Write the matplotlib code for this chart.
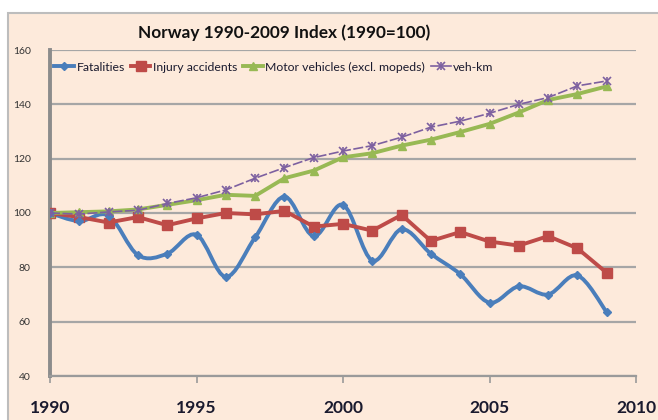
import numpy as np
import matplotlib
matplotlib.use('Agg')
import matplotlib.pyplot as plt
from matplotlib.path import Path
from matplotlib.patches import PathPatch, Rectangle
from matplotlib.lines import Line2D
from matplotlib.legend_handler import HandlerTuple

years = list(range(1990, 2010))
fatalities = [100, 97, 99, 84.5, 85, 92, 76.5, 91, 106, 91.5,
              103, 82.5, 94, 85, 77.5, 67, 73, 70, 77, 63.5]
injury = [100, 98.5, 96.5, 98.5, 95.5, 98, 100, 99.5, 100.8, 95,
          96, 93.5, 99.3, 89.7, 93, 89.5, 88, 91.5, 87, 78]
motor = [100, 100.3, 100.6, 101.3, 103, 104.7, 106.7, 106.3, 112.8, 115.6,
         120.5, 122, 124.8, 127, 129.8, 132.8, 137, 141.6, 143.8, 146.6]
vehkm = [100, 99.6, 100.4, 101, 103.5, 105.6, 108.5, 112.8, 116.7, 120.4,
         122.8, 124.8, 127.9, 131.6, 133.8, 136.7, 140, 142.5, 146.8, 148.6]

title = 'Norway 1990-2009 Index (1990=100)'
labels = ['Fatalities', 'Injury accidents', 'Motor vehicles (excl. mopeds)', 'veh-km']

BLUE = '#4a7ebb'
RED = '#be4b48'
GREEN = '#98b954'
PURPLE = '#7d60a0'
BG = '#fdeadb'
GRID = '#a6a6a6'

plt.rcParams['font.family'] = ['Lato', 'DejaVu Sans']


def smooth_path(xs, ys):
    # excel style smoothed line: bezier segments through every point
    pts = np.column_stack([xs, ys]).astype(float)
    n = len(pts)
    verts = [pts[0]]
    codes = [Path.MOVETO]
    for i in range(n - 1):
        p0 = pts[max(i - 1, 0)]
        p1 = pts[i]
        p2 = pts[i + 1]
        p3 = pts[min(i + 2, n - 1)]
        c1 = p1 + (p2 - p0) / 6.0
        c2 = p2 - (p3 - p1) / 6.0
        verts += [c1, c2, p2]
        codes += [Path.CURVE4] * 3
    return Path(verts, codes)


fig = plt.figure(figsize=(6.58, 4.2), dpi=100)
fig.patch.set_facecolor('white')
bg = Rectangle((8 / 658, -0.05), 1.0, 1 - 13 / 420 + 0.05,
               transform=fig.transFigure, facecolor=BG,
               edgecolor='#bdbdbd', lw=1.5, zorder=-10)
fig.add_artist(bg)

ax = fig.add_axes([50 / 658, 1 - 376 / 420, (636 - 50) / 658, (376 - 50) / 420])
ax.set_facecolor('none')

ax.set_xlim(1990, 2010)
ax.set_ylim(40, 160)
ax.set_xticks([1990, 1995, 2000, 2005, 2010])
ax.set_yticks(range(40, 161, 20))
ax.grid(axis='y', color=GRID, lw=1.6)
ax.set_axisbelow(True)
for s in ['top', 'right']:
    ax.spines[s].set_visible(False)
ax.spines['left'].set_color('#8c8c8c')
ax.spines['left'].set_linewidth(2.8)
ax.spines['bottom'].set_color('#9a9a9a')
ax.spines['bottom'].set_linewidth(1.6)
ax.tick_params(axis='x', direction='out', length=5, width=1.2, color='#9a9a9a',
               pad=12, labelsize=12.5)
ax.tick_params(axis='y', length=0, pad=14, labelsize=7.5, labelcolor='#333333')
for t in ax.get_xticklabels():
    t.set_fontweight('bold')
    t.set_color('#1a1a2e')

# fatalities: smoothed line
ax.add_patch(PathPatch(smooth_path(years, fatalities), facecolor='none',
                       edgecolor=BLUE, lw=2.8, zorder=3, capstyle='round'))
ax.plot(years, fatalities, ls='none', marker='D', ms=4.5, color=BLUE, zorder=4)

ax.plot(years, injury, color=RED, lw=2.8, marker='s', ms=7.5, zorder=3)
ax.plot(years, motor, color=GREEN, lw=2.8, marker='^', ms=6, zorder=3)
ax.plot(years, vehkm, color=PURPLE, lw=1.2, ls=(0, (6, 1.5)), marker='x', ms=6,
        mew=1.2, zorder=4)
ax.plot(years, vehkm, ls='none', marker='|', ms=6, mew=1.2, color=PURPLE, zorder=4)

h_fat = Line2D([], [], color=BLUE, lw=2.8, marker='D', ms=4.5)
h_inj = Line2D([], [], color=RED, lw=2.8, marker='s', ms=7.5)
h_mot = Line2D([], [], color=GREEN, lw=2.8, marker='^', ms=6)
h_veh = (Line2D([], [], color=PURPLE, lw=1.2, marker='x', ms=6, mew=1.2),
         Line2D([], [], ls='none', color=PURPLE, marker='|', ms=6, mew=1.2))
fig.legend([h_fat, h_inj, h_mot, h_veh], labels, loc='center',
           bbox_to_anchor=(274 / 658, 1 - 67 / 420), ncol=4, frameon=False,
           fontsize=8.8, handlelength=1.6, handletextpad=0.2, columnspacing=0.5,
           handler_map={tuple: HandlerTuple(ndivide=1, pad=0)},
           labelcolor='#1a1a2e')

fig.text(284 / 658, 1 - 33 / 420, title, ha='center', va='center',
         fontsize=12.4, fontweight='bold', color='#111111')

fig.savefig('out.png', dpi=100)
